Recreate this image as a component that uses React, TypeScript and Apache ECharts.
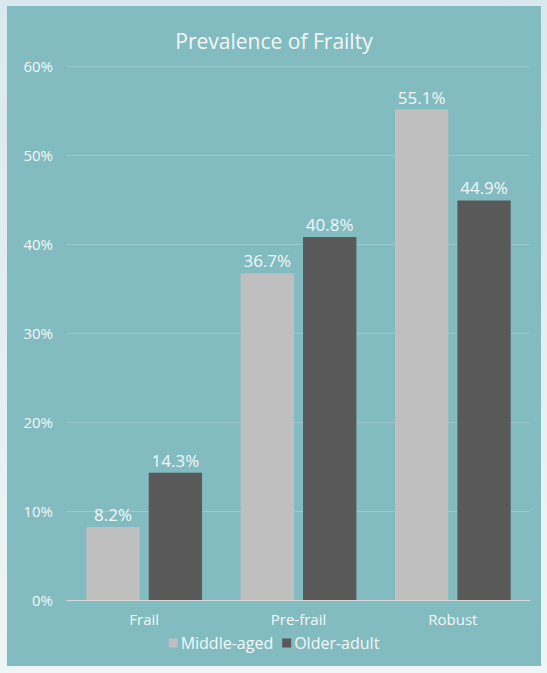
import React, { useEffect, useRef } from "react";
import * as echarts from "echarts";

const categories = ["Frail", "Pre-frail", "Robust"];
const middleAged = [8.2, 36.7, 55.1];
const olderAdult = [14.3, 40.8, 44.9];
const seriesNames = ["Middle-aged", "Older-adult"];
const yTicks = [0, 10, 20, 30, 40, 50, 60];

const FONT = "'Open Sans', sans-serif";
const TXT = "#f4f7f7";

export default function App() {
  const ref = useRef<HTMLDivElement>(null);
  useEffect(() => {
    if (!ref.current) return;
    const chart = echarts.init(ref.current, undefined, { renderer: "svg" });
    chart.setOption({
      animation: false,
      backgroundColor: "#82bcc0",
      textStyle: { fontFamily: FONT },
      title: {
        text: "Prevalence of Frailty",
        left: "center",
        top: 19,
        textStyle: { color: TXT, fontSize: 21, fontWeight: "normal", fontFamily: FONT },
      },
      legend: {
        bottom: 10,
        left: "center",
        itemWidth: 9,
        itemHeight: 9,
        itemGap: 9,
        icon: "rect",
        data: seriesNames,
        textStyle: { color: TXT, fontSize: 16, fontFamily: FONT, padding: [0, 0, 0, -2] },
      },
      grid: { left: 60, right: 11, top: 60, bottom: 66 },
      xAxis: {
        type: "category",
        data: categories,
        axisLine: { lineStyle: { color: "#d9d9d9", width: 1 } },
        axisTick: { show: false },
        axisLabel: { color: TXT, fontSize: 15, margin: 11, fontFamily: FONT },
      },
      yAxis: {
        type: "value",
        min: yTicks[0],
        max: yTicks[yTicks.length - 1],
        interval: 10,
        axisLine: { show: false },
        axisTick: { show: false },
        splitLine: { lineStyle: { color: "#9bcbce", width: 1 } },
        axisLabel: { color: TXT, fontSize: 15, margin: 14, fontFamily: FONT, formatter: "{value}%" },
      },
      series: [
        {
          name: seriesNames[0],
          type: "bar",
          data: middleAged,
          barGap: "17%",
          barCategoryGap: "25%",
          itemStyle: { color: "#bfbfbf" },
          label: { show: true, position: "top", color: TXT, fontSize: 17, fontFamily: FONT, distance: 4, formatter: "{c}%" },
        },
        {
          name: seriesNames[1],
          type: "bar",
          data: olderAdult,
          itemStyle: { color: "#595959" },
          label: { show: true, position: "top", color: TXT, fontSize: 17, fontFamily: FONT, distance: 4, formatter: "{c}%" },
        },
      ],
    });
    return () => chart.dispose();
  }, []);
  return (
    <div
      style={{
        position: "fixed",
        left: 0,
        top: 0,
        width: 547,
        height: 673,
        background: "linear-gradient(to bottom, #d9e9ed, #eef5f6)",
      }}
    >
      <div ref={ref} style={{ position: "absolute", left: 7, top: 6, width: 534, height: 660 }} />
    </div>
  );
}
